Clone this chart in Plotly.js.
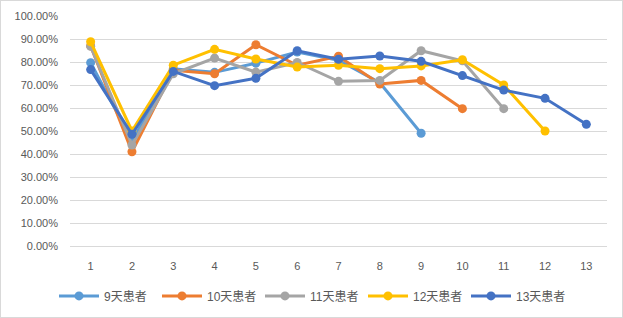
<!DOCTYPE html>
<html><head><meta charset="utf-8">
<script src="https://cdn.plot.ly/plotly-3.0.1.min.js"></script>
<style>html,body{margin:0;padding:0;background:#fff}#wrap{width:623px;height:318px;box-sizing:border-box;border:1px solid #d9d9d9;overflow:hidden}#chart{width:621px;height:316px}</style>
</head><body><div id="wrap"><div id="chart"></div></div>
<script>
const days = ['1','2','3','4','5','6','7','8','9','10','11','12','13'];
const names = ['9天患者','10天患者','11天患者','12天患者','13天患者'];
const colors = ['#5B9BD5','#ED7D31','#A5A5A5','#FFC000','#4472C4'];
const s9  = [0.797,0.457,0.770,0.755,0.795,0.843,0.808,0.710,0.490];
const s10 = [0.870,0.410,0.764,0.749,0.875,0.786,0.825,0.704,0.720,0.597];
const s11 = [0.868,0.439,0.749,0.817,0.756,0.798,0.716,0.720,0.849,0.805,0.597];
const s12 = [0.888,0.500,0.786,0.855,0.813,0.778,0.786,0.771,0.783,0.810,0.700,0.500];
const s13 = [0.767,0.486,0.759,0.697,0.729,0.849,0.812,0.826,0.803,0.741,0.678,0.642,0.529];
const series = [s9,s10,s11,s12,s13];
const traces = series.map((s,i)=>({
  x: days.slice(0,s.length), y: s, name: names[i], type:'scatter', mode:'lines+markers',
  line:{color:colors[i], width:3}, marker:{color:colors[i], size:9}
}));
const font = {family:'"Liberation Sans", "Noto Sans CJK SC", sans-serif', size:11, color:'#595959'};
Plotly.newPlot('chart', traces, {
  width:621, height:316,
  margin:{l:69, r:15, t:15, b:71, autoexpand:false},
  paper_bgcolor:'#fff', plot_bgcolor:'#fff',
  font: font,
  showlegend:true,
  xaxis:{type:'category', categoryarray:days, range:[-0.5,12.5], showgrid:false, zeroline:false, showline:true, linecolor:'#d9d9d9', ticks:'', ticklabelstandoff:10, tickfont:font, automargin:false},
  yaxis:{range:[0,1], tickvals:[0,0.1,0.2,0.3,0.4,0.5,0.6,0.7,0.8,0.9,1.0], tickformat:'.2%', gridcolor:'#d9d9d9', gridwidth:1, zeroline:false, showline:false, ticks:'', ticklabelstandoff:11, tickfont:font, automargin:false},
  legend:{orientation:'h', xref:'container', x:0.5, xanchor:'center', y:-0.217, yanchor:'middle', font:{family:'"Liberation Sans", "Noto Sans CJK SC", sans-serif', size:12, color:'#595959'}, entrywidth:48, entrywidthmode:'pixels', itemwidth:40, tracegroupgap:0}
}, {displayModeBar:false, staticPlot:true});
</script></body></html>
